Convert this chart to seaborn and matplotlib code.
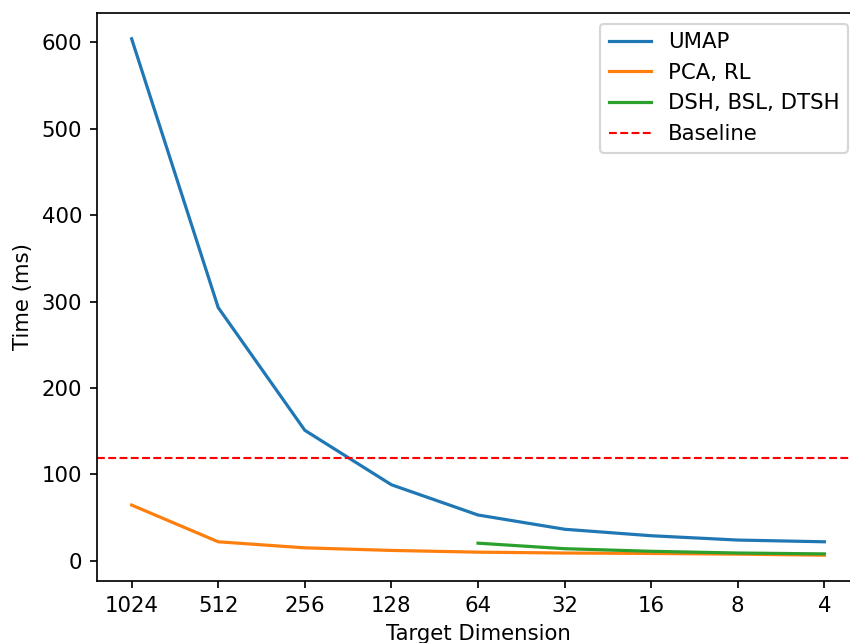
import pandas as pd
import matplotlib
matplotlib.use("Agg")
import matplotlib.pyplot as plt
import seaborn as sns

dims = ["1024", "512", "256", "128", "64", "32", "16", "8", "4"]
umap_ms = [604, 293, 151, 88, 53, 36.5, 29, 24, 22]
pca_rl_ms = [64.5, 22, 15, 12, 10, 9, 8.5, 7.7, 6.5]
dsh_dims = ["64", "32", "16", "8", "4"]
dsh_ms = [20.4, 14, 11, 9, 8]
baseline_ms = 119

DPI = 153
fig = plt.figure(figsize=(850 / DPI, 643 / DPI), dpi=DPI)
# the original is cropped on the right, so the axes run a little past the edge
ax = fig.add_axes([97 / 850, 1 - 581 / 643, (859 - 97) / 850, (581 - 13) / 643])

sns.lineplot(x=dims, y=umap_ms, ax=ax, label="UMAP", color="#1f77b4", sort=False)
sns.lineplot(x=dims, y=pca_rl_ms, ax=ax, label="PCA, RL", color="#ff7f0e", sort=False)
sns.lineplot(x=dsh_dims, y=dsh_ms, ax=ax, label="DSH, BSL, DTSH", color="#2ca02c", sort=False)
ax.axhline(baseline_ms, color="red", linestyle="--", linewidth=1, label="Baseline")

ax.set_xlabel("Target Dimension")
ax.set_ylabel("Time (ms)")
ax.legend(loc="upper right")

fig.savefig("out.png", dpi=DPI)
